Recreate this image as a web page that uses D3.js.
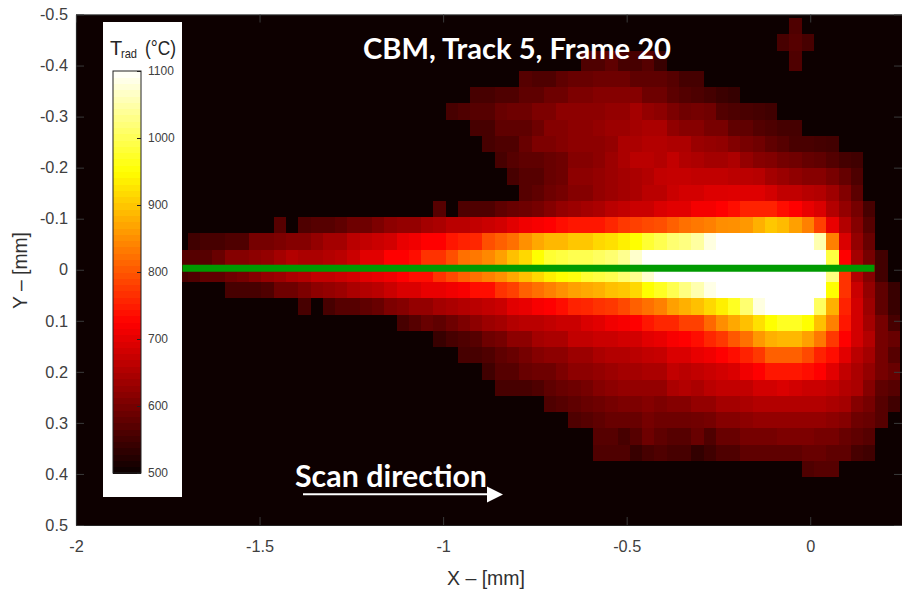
<!DOCTYPE html>
<html><head><meta charset="utf-8">
<style>html,body{margin:0;padding:0;background:#fff;overflow:hidden}svg{display:block}</style>
<script src="https://cdnjs.cloudflare.com/ajax/libs/d3/7.8.5/d3.min.js"></script>
</head><body><svg id="c" width="902" height="591"></svg>
<script>
// Radiance temperature (°C) per pixel row; each row has a first-column index.
const yEdges=[-0.4931,-0.4618,-0.4285,-0.3893,-0.358,-0.3266,-0.2933,-0.262,-0.2306,-0.1993,-0.166,-0.1347,-0.1033,-0.072,-0.0387,-0.0083,0.0234,0.0548,0.0886,0.12,0.1513,0.1827,0.216,0.2473,0.2787,0.31,0.3433,0.3747,0.406];
const colStart=-1.729, colStep=0.03345;
const rowStarts=[50,49,33,28,24,22,24,25,26,27,28,21,8,1,0,0,4,10,18,21,23,25,26,30,32,34,34,51];
const W=1100;
const r00=[563];
const r01=[556,571,556];
const r02=[563,563,578,556,556,571,542,500,500,500,500,500,500,500,500,500,500,563];
const r03=[571,563,563,578,585,585,592,592,592,578,578,578,571,553,553];
const r04=[556,556,563,563,578,578,592,592,606,606,613,613,613,613,592,592,575,566,562,553,544,540];
const r05=[556,563,571,571,585,592,592,606,606,620,620,620,620,627,627,641,627,620,605,593,597,593,566,562,557,553,549];
const r06=[556,556,578,578,578,592,613,613,620,620,627,634,634,641,648,648,624,615,615,601,601,579,579,566,562,553,553];
const r07=[556,563,563,585,606,606,613,620,620,620,627,648,648,655,655,650,650,632,628,624,610,601,593,579,571,557,557,553,551];
const r08=[556,571,578,578,585,592,613,613,620,634,648,662,662,655,669,654,650,641,641,650,628,615,610,597,593,584,579,566,553,549];
const r09=[556,571,571,585,592,620,620,627,634,641,648,655,669,672,672,668,668,668,663,663,659,641,632,623,615,615,601,584,562];
const r10=[571,578,592,599,613,613,627,634,641,648,662,662,676,685,685,694,694,696,696,696,685,668,668,659,654,637,610,575];
const r11=[571,500,563,563,563,578,585,592,599,613,627,634,641,648,662,669,676,676,691,698,698,716,716,725,739,753,753,753,739,725,705,691,655,627,599,556];
const r12=[571,500,563,571,571,578,592,592,606,620,627,627,641,648,662,662,669,676,684,698,712,719,725,732,746,746,746,760,774,781,789,796,810,824,831,838,850,852,859,880,901,890,866,838,781,705,655,613,571];
const r13=[549,556,556,563,563,599,599,606,613,613,627,641,641,662,669,676,684,705,712,725,725,746,753,760,796,810,824,852,873,887,887,901,901,916,923,937,950,978,997,1016,1025,1044,1082,W,W,W,W,W,W,W,W,1053,838,691,627,585];
const r14=[571,571,571,585,613,613,620,627,641,655,648,648,655,662,676,698,698,725,725,739,767,767,796,824,831,845,866,894,916,950,978,988,997,997,1006,1016,1034,1070,W,W,W,W,W,W,W,W,W,W,W,W,W,W,W,988,725,641,599,551];
const r15=[556,563,578,578,592,599,613,627,634,648,655,669,669,676,684,698,705,712,725,732,739,767,789,810,824,838,852,873,894,916,937,950,959,978,988,997,1016,1034,1072,W,W,W,W,W,W,W,W,W,W,W,W,W,W,1025,767,655,613,551];
const r16=[556,556,556,563,592,592,606,620,627,634,648,655,662,676,691,691,705,705,712,719,732,739,767,781,810,824,838,852,866,873,880,894,901,916,950,969,997,1025,1053,1085,W,W,W,W,W,W,W,W,W,950,767,676,627,578,542];
const r17=[556,500,556,571,571,578,585,606,613,627,627,641,648,655,662,669,676,698,705,719,725,739,753,760,767,774,789,810,824,838,866,880,894,916,937,969,1016,1082,W,W,W,W,1006,880,753,684,634,578,542];
const r18=[556,571,585,578,592,606,620,634,641,655,662,662,669,676,676,691,698,712,719,725,746,760,760,781,781,817,850,873,894,923,950,969,969,950,894,838,746,684,641,599,556];
const r19=[542,556,563,571,592,599,620,620,641,648,648,669,669,676,676,684,684,698,705,719,725,739,760,774,803,824,859,880,887,887,866,831,774,725,684,655,599,585];
const r20=[556,556,563,578,585,599,613,620,620,634,634,648,655,655,662,669,673,691,691,705,712,725,739,753,774,810,810,810,789,753,739,698,662,641,599,571];
const r21=[549,571,571,585,592,592,606,620,620,627,634,641,641,648,648,669,662,669,676,684,691,712,725,743,743,743,735,725,698,669,648,627,599,585];
const r22=[556,556,556,563,578,585,592,599,613,620,627,627,627,627,648,655,648,662,669,669,669,684,684,691,684,676,676,669,655,648,613,578,571];
const r23=[563,571,578,585,592,599,606,606,613,606,613,613,627,627,641,641,648,655,655,655,655,655,655,648,641,613,599,571,549];
const r24=[563,571,578,585,585,585,599,592,592,592,595,599,613,613,620,627,627,627,627,627,627,620,613,592,585,571];
const r25=[571,571,556,571,592,578,571,571,585,563,585,585,599,599,599,606,606,606,599,599,585,578,571];
const r26=[563,563,563,542,556,563,556,556,535,549,563,563,578,578,578,578,578,585,585,578,578,556,549];
const r27=[563,571,571];
const rows=[r00,r01,r02,r03,r04,r05,r06,r07,r08,r09,r10,r11,r12,r13,r14,r15,r16,r17,r18,r19,r20,r21,r22,r23,r24,r25,r26,r27];
const xTicks=[-2,-1.5,-1,-0.5,0];
const yTicks=[-0.5,-0.4,-0.3,-0.2,-0.1,0,0.1,0.2,0.3,0.4,0.5];
const cbTicks=[500,600,700,800,900,1000,1100];
const scanLine=[-1.71,0.175];

const svg=d3.select("#c");
const x=d3.scaleLinear().domain([-2,0.25]).range([76,902]);
const y=d3.scaleLinear().domain([-0.5,0.5]).range([14.5,525]);
const hot=d3.scaleLinear().domain([500,725,950,1100]).range(["#0a0000","#ff0000","#ffff00","#ffffff"]).clamp(true);
const sans="'Liberation Sans',Arial,sans-serif";

const defs=svg.append("defs");
defs.append("filter").attr("id","soft").attr("x",0).attr("y",0).attr("width",1).attr("height",1)
  .append("feGaussianBlur").attr("stdDeviation",0.4);
defs.append("clipPath").attr("id","plot").append("rect").attr("x",x(-2)).attr("y",y(-0.5)).attr("width",x(0.25)-x(-2)).attr("height",y(0.5)-y(-0.5));

const heat=svg.append("g").attr("clip-path","url(#plot)").append("g").attr("filter","url(#soft)");
heat.append("rect").attr("x",x(-2)).attr("y",y(-0.5)).attr("width",x(0.25)-x(-2)).attr("height",y(0.5)-y(-0.5)).attr("fill",hot(500));
const cells=rows.flatMap((vals,r)=>vals.map((v,i)=>({r,c:rowStarts[r]+i,v}))).filter(d=>d.v>500);
heat.append("g").attr("shape-rendering","crispEdges").selectAll("rect").data(cells).join("rect")
 .attr("x",d=>x(colStart+d.c*colStep))
 .attr("y",d=>y(yEdges[d.r]))
 .attr("width",d=>Math.min(x(colStart+(d.c+1)*colStep),902)-x(colStart+d.c*colStep))
 .attr("height",d=>y(yEdges[d.r+1])-y(yEdges[d.r]))
 .attr("fill",d=>hot(d.v));

// axes
const tf=d=>d===0?"0":String(d);
const ax=svg.append("g").attr("transform",`translate(0,${y(0.5)})`).call(d3.axisBottom(x).tickValues(xTicks).tickFormat(tf).tickSizeInner(-8).tickSizeOuter(0).tickPadding(15));
const ay=svg.append("g").attr("transform",`translate(${x(-2)},0)`).call(d3.axisLeft(y).tickValues(yTicks).tickFormat(tf).tickSizeInner(-8).tickSizeOuter(0).tickPadding(8));
const ax2=svg.append("g").attr("transform",`translate(0,${y(-0.5)})`).call(d3.axisTop(x).tickValues(xTicks).tickFormat("").tickSizeInner(-8).tickSizeOuter(0));
const ay2=svg.append("g").attr("transform",`translate(${x(0.25)},0)`).call(d3.axisRight(y).tickValues(yTicks).tickFormat("").tickSizeInner(-8).tickSizeOuter(0));
[ax,ay,ax2,ay2].forEach(g=>{
  g.selectAll(".domain").attr("stroke","#262626").attr("stroke-width",1.2);
  g.selectAll(".tick line").attr("stroke","#3a3a3a");
  g.selectAll("text").attr("font-family",sans).attr("font-size",16.3).attr("fill","#404040");
});
svg.append("text").attr("x",447).attr("y",585).attr("textLength",78).attr("lengthAdjust","spacingAndGlyphs").attr("font-family",sans).attr("font-size",21).attr("fill","#303030").text("X – [mm]");
svg.append("text").attr("transform","translate(27,309) rotate(-90)").attr("textLength",77).attr("lengthAdjust","spacingAndGlyphs").attr("font-family",sans).attr("font-size",21).attr("fill","#303030").text("Y – [mm]");

// colour-bar panel
svg.append("rect").attr("x",103).attr("y",22).attr("width",79).attr("height",475).attr("fill","#fff");
const cbY=d3.scaleLinear().domain([500,1100]).range([473,71]);
const levels=d3.range(64).map(i=>500+600*(i+0.5)/64);
svg.append("g").attr("shape-rendering","crispEdges").selectAll("rect").data(levels).join("rect")
 .attr("x",113).attr("width",28)
 .attr("y",d=>cbY(d+600/128)).attr("height",d=>cbY(d-600/128)-cbY(d+600/128)+0.5)
 .attr("fill",d=>hot(d));
svg.append("rect").attr("x",113).attr("y",cbY(1100)).attr("width",28).attr("height",cbY(500)-cbY(1100)).attr("fill","none").attr("stroke","#222").attr("stroke-width",1);
const cb=svg.append("g").attr("transform","translate(141,0)").call(d3.axisRight(cbY).tickValues(cbTicks).tickFormat(d3.format("d")).tickSizeInner(-4).tickSizeOuter(0).tickPadding(7));
cb.select(".domain").remove();
cb.selectAll(".tick line").attr("stroke","#222");
cb.selectAll("text").attr("font-family",sans).attr("font-size",12).attr("fill","#404040");
svg.append("text").attr("x",110).attr("y",55).attr("font-family",sans).attr("fill","#262626").attr("font-size",20).text("T");
svg.append("text").attr("x",121).attr("y",58).attr("textLength",16).attr("lengthAdjust","spacingAndGlyphs").attr("font-family",sans).attr("fill","#262626").attr("font-size",13).text("rad");
svg.append("text").attr("x",145).attr("y",55).attr("textLength",31).attr("lengthAdjust","spacingAndGlyphs").attr("font-family",sans).attr("fill","#262626").attr("font-size",20).text("(°C)");

// scan line
svg.append("line").attr("x1",x(scanLine[0])).attr("x2",x(scanLine[1])).attr("y1",y(-0.003)).attr("y2",y(-0.003)).attr("stroke","#009a00").attr("stroke-width",7);

// annotations
svg.append("text").attr("x",363).attr("y",58.5).attr("textLength",308).attr("lengthAdjust","spacingAndGlyphs").attr("font-family","Lato,sans-serif").attr("font-weight",700).attr("font-size",29).attr("fill","#fff").text("CBM, Track 5, Frame 20");
svg.append("text").attr("x",295).attr("y",487).attr("textLength",192).attr("lengthAdjust","spacingAndGlyphs").attr("font-family","Lato,sans-serif").attr("font-weight",700).attr("font-size",31).attr("fill","#fff").text("Scan direction");
svg.append("line").attr("x1",303).attr("x2",490).attr("y1",494.3).attr("y2",494.3).attr("stroke","#fff").attr("stroke-width",2);
svg.append("path").attr("d",d3.line()([[487,486.5],[503,494.5],[487,502.5]])+"Z").attr("fill","#fff");
</script></body></html>
